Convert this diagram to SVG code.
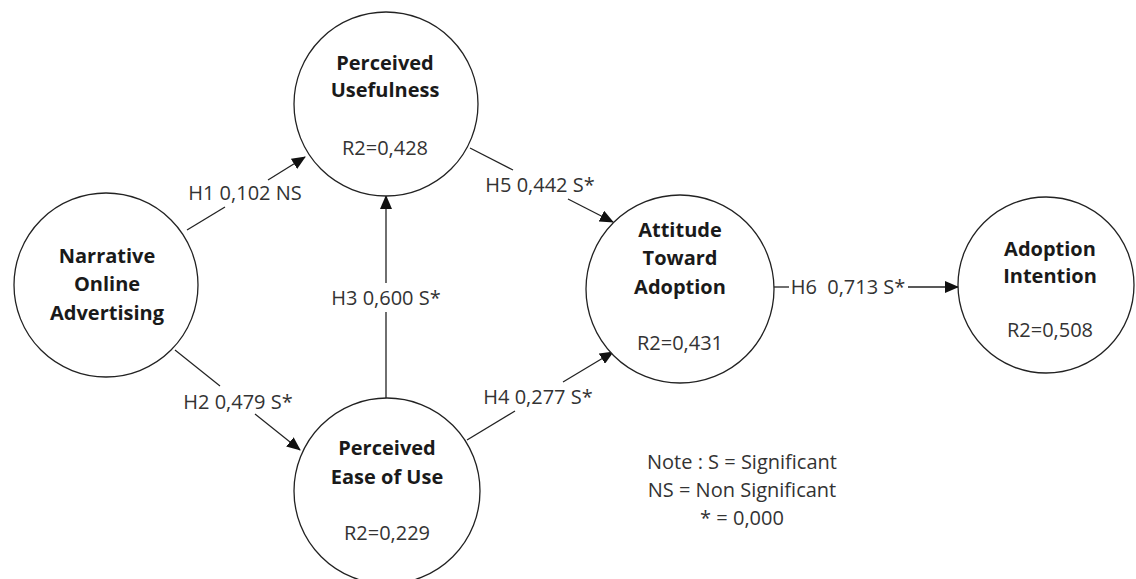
<svg xmlns="http://www.w3.org/2000/svg" width="1136" height="579" viewBox="0 0 1136 579">
<style>
.node{fill:#fff;stroke:#222;stroke-width:1.3}
.t{font-family:"Open Sans","Liberation Sans",sans-serif;font-size:20px;font-weight:bold;fill:#1a1a1a;text-anchor:middle}
.r{font-family:"Open Sans","Liberation Sans",sans-serif;font-size:20px;fill:#333;text-anchor:middle}
.lbl{font-family:"Open Sans","Liberation Sans",sans-serif;font-size:20px;fill:#333;text-anchor:middle}
.c{stroke:#222;stroke-width:1.3;fill:none}
</style>
<defs>
<marker id="ah" markerWidth="14" markerHeight="12" refX="13" refY="6" orient="auto" markerUnits="userSpaceOnUse">
<path d="M0,0 L14,6 L0,12 z" fill="#111"/>
</marker>
</defs>
<rect width="1136" height="579" fill="#fff"/>
<g id="connectors">
<line class="c" x1="187" y1="230" x2="225" y2="207"/>
<line class="c" x1="268" y1="180" x2="305" y2="157" marker-end="url(#ah)"/>
<text class="lbl" x="245" y="200">H1 0,102 NS</text>
<line class="c" x1="175" y1="350" x2="220" y2="386"/>
<line class="c" x1="255" y1="414" x2="300" y2="450" marker-end="url(#ah)"/>
<text class="lbl" x="238" y="409">H2 0,479 S*</text>
<line class="c" x1="386" y1="398" x2="386" y2="312"/>
<line class="c" x1="386" y1="283" x2="386" y2="196" marker-end="url(#ah)"/>
<text class="lbl" x="386" y="305">H3 0,600 S*</text>
<line class="c" x1="470" y1="148" x2="513" y2="170"/>
<line class="c" x1="568" y1="199" x2="613" y2="222" marker-end="url(#ah)"/>
<text class="lbl" x="540" y="192">H5 0,442 S*</text>
<line class="c" x1="467" y1="440" x2="515" y2="411"/>
<line class="c" x1="563" y1="382" x2="613" y2="352" marker-end="url(#ah)"/>
<text class="lbl" x="538" y="404">H4 0,277 S*</text>
<line class="c" x1="774" y1="287" x2="789" y2="287"/>
<line class="c" x1="908" y1="287" x2="958" y2="287" marker-end="url(#ah)"/>
<text class="lbl" x="848" y="294" xml:space="preserve">H6  0,713 S*</text>
</g>
<g id="narrative">
<circle class="node" cx="106" cy="285" r="92"/>
<text class="t" x="107" y="263">Narrative</text>
<text class="t" x="107" y="291">Online</text>
<text class="t" x="107" y="320">Advertising</text>
</g>
<g id="usefulness">
<circle class="node" cx="386" cy="104" r="92"/>
<text class="t" x="385" y="70">Perceived</text>
<text class="t" x="385" y="97">Usefulness</text>
<text class="r" x="385" y="155">R2=0,428</text>
</g>
<g id="ease">
<circle class="node" cx="387" cy="491" r="93"/>
<text class="t" x="387" y="455">Perceived</text>
<text class="t" x="387" y="484">Ease of Use</text>
<text class="r" x="387" y="540">R2=0,229</text>
</g>
<g id="attitude">
<circle class="node" cx="680" cy="289" r="94"/>
<text class="t" x="680" y="237">Attitude</text>
<text class="t" x="680" y="265">Toward</text>
<text class="t" x="680" y="294">Adoption</text>
<text class="r" x="680" y="350">R2=0,431</text>
</g>
<g id="adoption">
<circle class="node" cx="1046" cy="285" r="88"/>
<text class="t" x="1050" y="256">Adoption</text>
<text class="t" x="1050" y="283">Intention</text>
<text class="r" x="1050" y="337">R2=0,508</text>
</g>
<g id="note">
<text class="r" x="742" y="469">Note : S = Significant</text>
<text class="r" x="742" y="497">NS = Non Significant</text>
<text class="r" x="742" y="525">* = 0,000</text>
</g>
</svg>
